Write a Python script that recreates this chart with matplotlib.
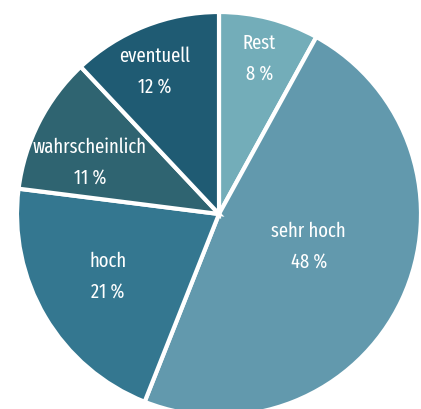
import matplotlib
matplotlib.use("Agg")
import matplotlib.pyplot as plt
import numpy as np

categories = ["Rest", "sehr hoch", "hoch", "wahrscheinlich", "eventuell"]
values = [8, 48, 21, 11, 12]
colors = ["#73adb9", "#6299ad", "#347790", "#2f6471", "#1f5b73"]
pct_labels = ["8 %", "48 %", "21 %", "11 %", "12 %"]

# label placement (radius fraction, angle offset in degrees)
label_r = [0.80, 0.47, 0.63, 0.69, 0.78]
label_dang = [0, 6, -1.5, 5, 2.5]

plt.rcParams["font.family"] = ["Fira Sans Extra Condensed", "DejaVu Sans"]

W, H = 421, 410
cx, cy, R = 219, 215, 202
fig = plt.figure(figsize=(W / 100, H / 100), dpi=100)
ax = fig.add_axes([0, 0, 1, 1])
wedges, _ = ax.pie(values, colors=colors, startangle=90, counterclock=False,
                   radius=1, center=(0, 0),
                   wedgeprops=dict(edgecolor="white", linewidth=3.0))
ax.set_aspect("auto")
ax.set_xlim(-cx / R, (W - cx) / R)
ax.set_ylim(-(H - cy) / R, cy / R)
ax.axis("off")

for w, name, pct, r, da in zip(wedges, categories, pct_labels, label_r, label_dang):
    ang = np.deg2rad((w.theta1 + w.theta2) / 2 + da)
    x, y = r * np.cos(ang), r * np.sin(ang)
    ax.text(x, y, name + "\n" + pct, ha="center", va="center", color="white",
            fontsize=14.5, linespacing=1.7)

fig.savefig("out.png", dpi=100)
